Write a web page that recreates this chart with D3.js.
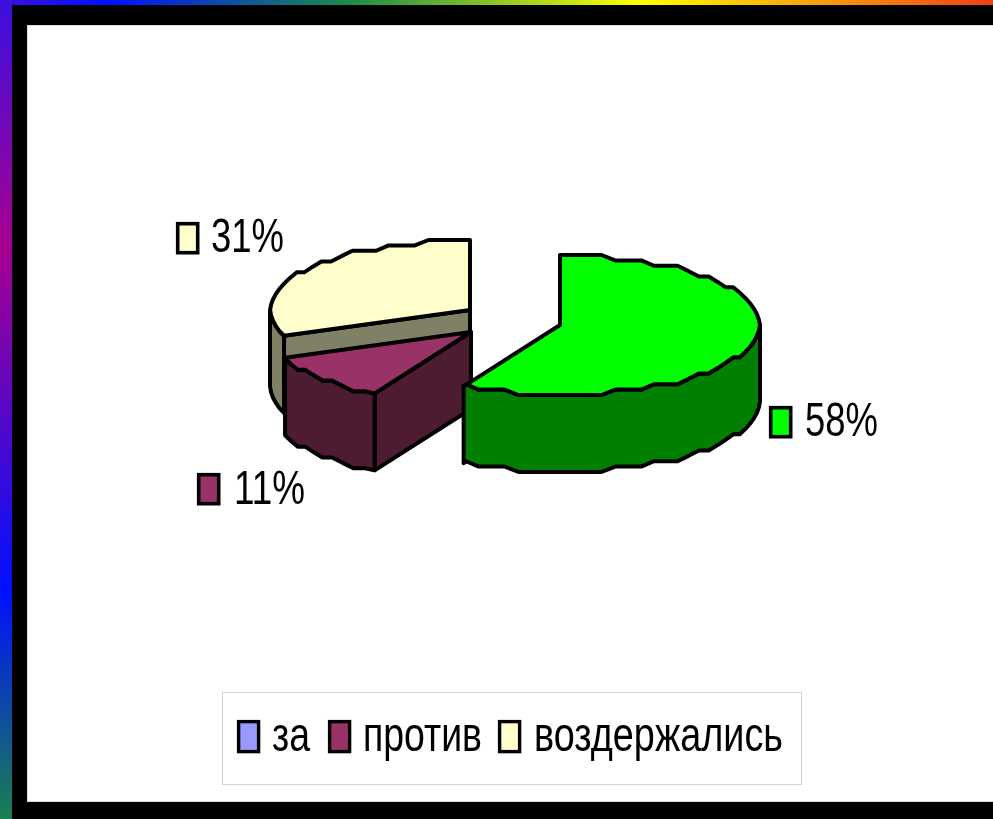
<!DOCTYPE html>
<html><head><meta charset="utf-8">
<script src="https://cdn.jsdelivr.net/npm/d3@7/dist/d3.min.js"></script>
<style>html,body{margin:0;padding:0;background:#000}svg{display:block}text{font-family:"Liberation Sans",Arial,sans-serif;fill:#000}</style>
</head><body><svg id="c" width="993" height="819"></svg>
<script>
const categories = ["за","против","воздержались"];
const values = [58,11,31];
const labels = ["58%","11%","31%"];
const legendColors = ["#9999FF","#993366","#FFFFCC"];
const topColors = ["#00FF00","#993366","#FFFFCC"];
const wallColors = ["#007F00","#4D1A33","#808066"];
const topStops = [[0,"#3a10e0"],[108,"#0010ff"],[348,"#1a8c4a"],[640,"#ffff00"],[993,"#f04016"]];
const leftStops = [[0,"#3a10e0"],[245,"#a80090"],[590,"#0010ff"],[819,"#1a8050"]];

const W=993,H=819;
const svg=d3.select("#c");
const defs=svg.append("defs");
function grad(id,stops,horizontal,len){
  const g=defs.append("linearGradient").attr("id",id).attr("gradientUnits","userSpaceOnUse")
    .attr("x1",0).attr("y1",0).attr("x2",horizontal?len:0).attr("y2",horizontal?0:len);
  g.selectAll("stop").data(stops).join("stop").attr("offset",d=>d[0]/len).attr("stop-color",d=>d[1]);
}
grad("gt",topStops,true,W); grad("gl",leftStops,false,H);
defs.append("filter").attr("id","soft").attr("x","-5%").attr("y","-5%").attr("width","110%").attr("height","110%")
  .append("feGaussianBlur").attr("stdDeviation",0.5);
svg.append("rect").attr("width",W).attr("height",H).attr("fill","#000");
svg.append("rect").attr("width",W).attr("height",5).attr("fill","url(#gt)");
svg.append("rect").attr("width",12).attr("height",H).attr("fill","url(#gl)");
svg.append("rect").attr("x",27.5).attr("y",25.5).attr("width",W-27).attr("height",776).attr("fill","#fff").attr("stroke","#ddd").attr("stroke-width",1);

const chart=svg.append("g").attr("filter","url(#soft)");
// 3D pie
const rx=200, ry=70, depth=77, grid=ry/13, stepDeg=4;
const centers=[[560,325],[471,332],[470,310]];
const arcs=d3.pie().sort(null).value(d=>d)(values);
const line=d3.line();
const rad=Math.PI/180;
function arcPts(c,a0,a1,dy){
  const lo=Math.ceil(a0/rad/stepDeg+1e-6), hi=Math.floor(a1/rad/stepDeg-1e-6);
  const angles=[a0].concat(d3.range(lo,hi+1).map(k=>k*stepDeg*rad),[a1]);
  const raw=angles.map((a,i)=>{
    const y=-ry*Math.cos(a);
    return [c[0]+rx*Math.sin(a), c[1]+dy+((i===0||i===angles.length-1)?y:Math.round(y/grid)*grid)];
  });
  return raw.filter((p,i)=>i===0||i===raw.length-1||p[1]!==raw[i-1][1]||p[1]!==raw[i+1][1]);
}
function piece(points,fill){
  chart.append("path").attr("d",line(points)+"Z").attr("fill",fill)
    .attr("stroke","#000").attr("stroke-width",4).attr("stroke-linejoin","round");
}
const pi=Math.PI;
function slice(i,wallFrom,wallTo,radial){
  const d=arcs[i],c=centers[i];
  const color=wallColors[i];
  if(radial!==undefined){
    const a=radial, px=c[0]+rx*Math.sin(a), py=c[1]-ry*Math.cos(a);
    piece([c,[px,py],[px,py+depth],[c[0],c[1]+depth]],color);
  }
  const top=arcPts(c,wallFrom,wallTo,0), bottom=arcPts(c,wallFrom,wallTo,depth).reverse();
  piece(top.concat(bottom),color);
  piece([c].concat(arcPts(c,d.startAngle,d.endAngle,0)),topColors[i]);
}
slice(2,arcs[2].startAngle,3*pi/2,arcs[2].startAngle);
slice(1,arcs[1].startAngle,arcs[1].endAngle,arcs[1].startAngle);
slice(0,pi/2,arcs[0].endAngle);

// data labels
const labelPos=[[769,406,805,436,73],[197,473,234,504,71],[176,222,211,252,73]];
labels.forEach((t,i)=>{
  const p=labelPos[i];
  chart.append("rect").attr("x",p[0]+1.7).attr("y",p[1]+1.7).attr("width",20).attr("height",29)
    .attr("fill",topColors[i]).attr("stroke","#000").attr("stroke-width",3.6);
  chart.append("text").attr("x",p[2]).attr("y",p[3]).attr("font-size",49)
    .attr("textLength",p[4]).attr("lengthAdjust","spacingAndGlyphs").text(t);
});

// legend
chart.append("rect").attr("x",222.5).attr("y",692.5).attr("width",579).attr("height",92)
  .attr("fill","#fff").attr("stroke","#d4d4d4").attr("stroke-width",1);
const lg=[[237,272,38],[328,363,119],[498,534,249]];
categories.forEach((t,i)=>{
  const p=lg[i];
  chart.append("rect").attr("x",p[0]+1.6).attr("y",721.6).attr("width",20).attr("height",30)
    .attr("fill",legendColors[i]).attr("stroke","#000").attr("stroke-width",3.4);
  chart.append("text").attr("x",p[1]).attr("y",751).attr("font-size",49)
    .attr("textLength",p[2]).attr("lengthAdjust","spacingAndGlyphs").text(t);
});
</script></body></html>
